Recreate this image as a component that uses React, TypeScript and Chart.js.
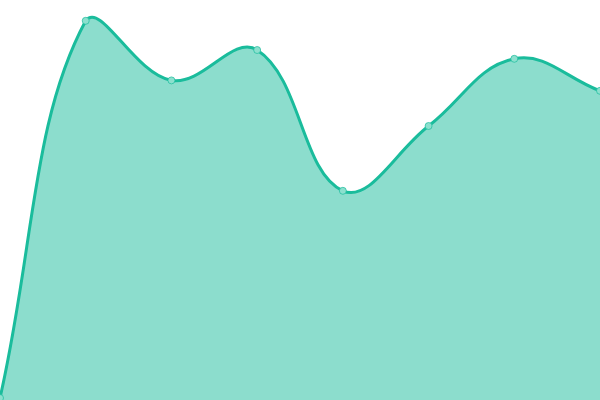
import React, { useEffect, useRef } from "react";
import { Chart, registerables } from "chart.js";

Chart.register(...registerables);

const categories = ["1", "2", "3", "4", "5", "6", "7", "8"];
const seriesValues = [0.5, 94.8, 79.9, 87.5, 52.3, 68.5, 85.3, 77.3];

export default function App() {
  const ref = useRef<HTMLCanvasElement | null>(null);
  useEffect(() => {
    document.body.style.margin = "0";
    const chart = new Chart(ref.current!, {
      type: "line",
      data: {
        labels: categories,
        datasets: [
          {
            data: seriesValues,
            fill: true,
            tension: 0.4,
            borderColor: "#1abc9c",
            backgroundColor: "rgba(26,188,156,0.5)",
            borderWidth: 3,
            pointRadius: 3.5,
            pointBorderWidth: 1,
            pointBackgroundColor: "rgba(140,224,206,1)",
            pointBorderColor: "rgba(26,188,156,0.7)",
          },
        ],
      },
      options: {
        animation: false,
        responsive: false,
        layout: { padding: 0, autoPadding: false },
        plugins: { legend: { display: false }, tooltip: { enabled: false } },
        scales: {
          x: { display: false },
          y: { display: false, min: 0, max: 100 },
        },
      },
    });
    return () => chart.destroy();
  }, []);
  return (
    <div style={{ width: 600, height: 400 }}>
      <canvas ref={ref} width={600} height={400} style={{ display: "block" }} />
    </div>
  );
}
